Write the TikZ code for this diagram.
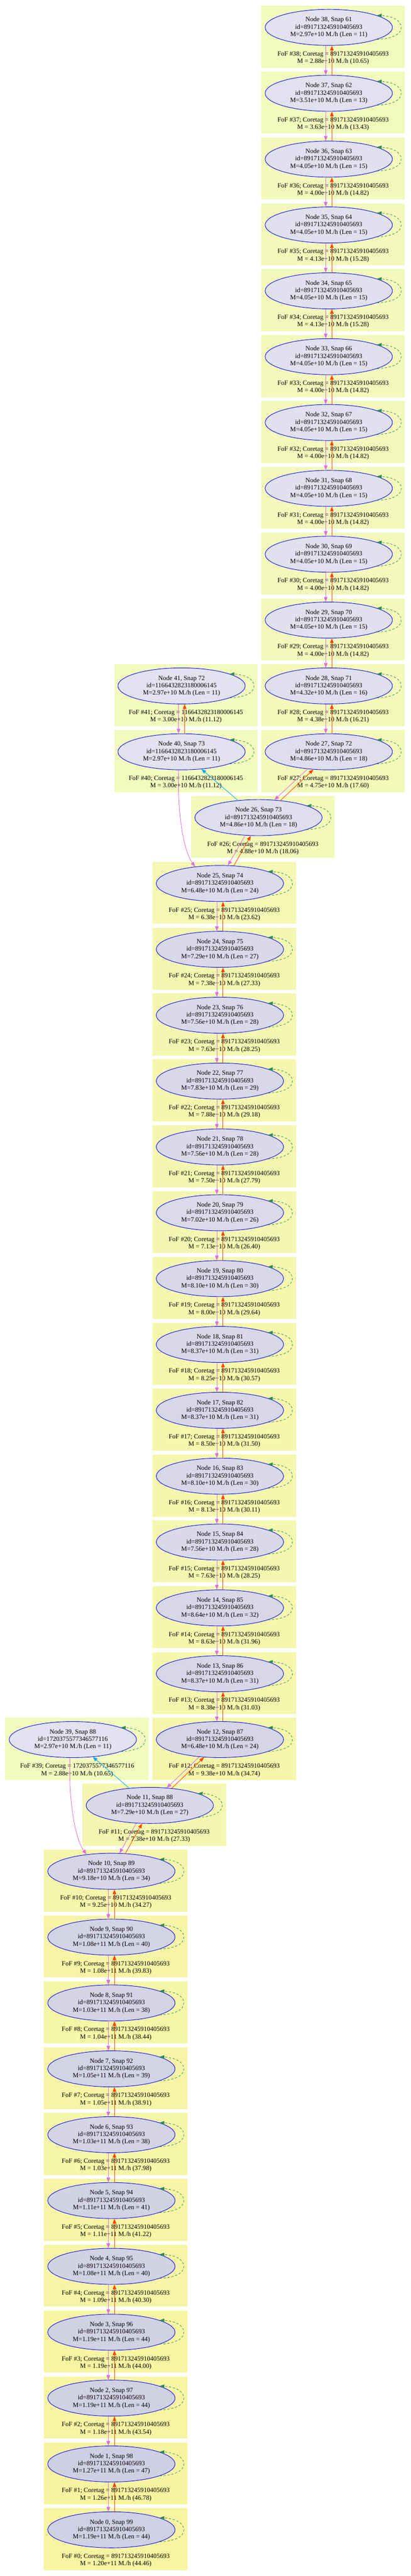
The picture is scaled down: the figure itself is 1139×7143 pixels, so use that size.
\documentclass[tikz,border=0pt]{standalone}
\usepackage{fontspec}
\setmainfont{Liberation Serif}
\usetikzlibrary{shapes.geometric,arrows.meta}
\definecolor{cllo}{HTML}{F2FABE}
\definecolor{clhi}{HTML}{F7F4A0}
\definecolor{ello}{HTML}{E2E2F0}
\definecolor{elhi}{HTML}{CFCFE3}
\definecolor{orchid}{HTML}{DA70D6}
\definecolor{orangered}{HTML}{FF4500}
\definecolor{seagreen}{HTML}{2E8B57}
\tikzset{
  headtip/.style  = { -{Triangle[length=13pt,width=10pt]} },
  halo/.style     = { ellipse, draw=blue, line width=1.3pt, minimum width=353pt, minimum height=100pt,
    inner sep=0pt, align=center, font=\fontsize{18pt}{20.5pt}\selectfont },
  foflab/.style   = { align=center, inner sep=0pt, font=\fontsize{18pt}{20.5pt}\selectfont },
  prog/.style     = { headtip, draw=orchid, line width=1.3pt },
  desc/.style     = { headtip, draw=orangered, line width=1.3pt },
  mergeln/.style  = { headtip, draw=cyan, line width=1.3pt },
  selfloop/.style = { headtip, draw=seagreen, line width=1.2pt, dash pattern=on 6pt off 5pt }
}
% #1 node, #2 x, #3 row, #4 snap, #5 id, #6 M, #7 len, #8 fof M, #9 fof ratio
\newcommand{\fofhalo}[9]{%
  \pgfmathsetmacro\ytop{16+182.6*#3}
  \pgfmathtruncatemacro\fofmix{max(0,min(100,(#9-10.65)*100/36.13))}
  \fill[clhi!\fofmix!cllo] (#2-187,\ytop) rectangle (#2+211,\ytop+172);
  \node[halo, fill=elhi!\fofmix!ello] (h#1) at (#2,\ytop+60) {Node #1, Snap #4\\id=#5\\M=#6 M./h (Len = #7)};
  \node[foflab] (f#1) at (#2+12,\ytop+145) {FoF \##1; Coretag = #5\\M = #8 M./h (#9)};
  \draw[selfloop] (h#1.-14) .. controls +(45,-2) and +(0,18) .. ([xshift=201pt]h#1.center)
    .. controls +(0,-18) and +(45,2) .. (h#1.14);
}
\newcommand{\halolink}[2]{%
  \draw[prog] ([xshift=-8.5pt]h#1.south) -- ([xshift=-8.5pt]h#2.north);
  \draw[desc] ([xshift=8.5pt]h#2.north) -- ([xshift=8.5pt]h#1.south);
}
\begin{document}
\begin{tikzpicture}[x=1pt,y=-1pt]
  \useasboundingbox (0,0) rectangle (1139,7143);
  % snaps 61-72
  \foreach \nd/\sn/\ms/\lh/\fm/\fr [count=\row from 0] in {
    38/61/2.97e+10/11/2.88e+10/10.65, 37/62/3.51e+10/13/3.63e+10/13.43,
    36/63/4.05e+10/15/4.00e+10/14.82, 35/64/4.05e+10/15/4.13e+10/15.28,
    34/65/4.05e+10/15/4.13e+10/15.28, 33/66/4.05e+10/15/4.00e+10/14.82,
    32/67/4.05e+10/15/4.00e+10/14.82, 31/68/4.05e+10/15/4.00e+10/14.82,
    30/69/4.05e+10/15/4.00e+10/14.82, 29/70/4.05e+10/15/4.00e+10/14.82,
    28/71/4.32e+10/16/4.38e+10/16.21, 27/72/4.86e+10/18/4.75e+10/17.60}
    {\fofhalo{\nd}{912}{\row}{\sn}{891713245910405693}{\ms}{\lh}{\fm}{\fr}}
  \fofhalo{41}{503.6}{10}{72}{1166432823180006145}{2.97e+10}{11}{3.00e+10}{11.12}
  \fofhalo{40}{503.6}{11}{73}{1166432823180006145}{2.97e+10}{11}{3.00e+10}{11.12}
  \fofhalo{26}{717}{12}{73}{891713245910405693}{4.86e+10}{18}{4.88e+10}{18.06}
  % snaps 74-87
  \foreach \nd/\sn/\ms/\lh/\fm/\fr [count=\row from 13] in {
    25/74/6.48e+10/24/6.38e+10/23.62, 24/75/7.29e+10/27/7.38e+10/27.33,
    23/76/7.56e+10/28/7.63e+10/28.25, 22/77/7.83e+10/29/7.88e+10/29.18,
    21/78/7.56e+10/28/7.50e+10/27.79, 20/79/7.02e+10/26/7.13e+10/26.40,
    19/80/8.10e+10/30/8.00e+10/29.64, 18/81/8.37e+10/31/8.25e+10/30.57,
    17/82/8.37e+10/31/8.50e+10/31.50, 16/83/8.10e+10/30/8.13e+10/30.11,
    15/84/7.56e+10/28/7.63e+10/28.25, 14/85/8.64e+10/32/8.63e+10/31.96,
    13/86/8.37e+10/31/8.38e+10/31.03, 12/87/6.48e+10/24/9.38e+10/34.74}
    {\fofhalo{\nd}{610}{\row}{\sn}{891713245910405693}{\ms}{\lh}{\fm}{\fr}}
  \fofhalo{39}{202}{26}{88}{1720375577346577116}{2.97e+10}{11}{2.88e+10}{10.65}
  \fofhalo{11}{415.5}{27}{88}{891713245910405693}{7.29e+10}{27}{7.38e+10}{27.33}
  % snaps 89-99
  \foreach \nd/\sn/\ms/\lh/\fm/\fr [count=\row from 28] in {
    10/89/9.18e+10/34/9.25e+10/34.27, 9/90/1.08e+11/40/1.08e+11/39.83,
    8/91/1.03e+11/38/1.04e+11/38.44, 7/92/1.05e+11/39/1.05e+11/38.91,
    6/93/1.03e+11/38/1.03e+11/37.98, 5/94/1.11e+11/41/1.11e+11/41.22,
    4/95/1.08e+11/40/1.09e+11/40.30, 3/96/1.19e+11/44/1.19e+11/44.00,
    2/97/1.19e+11/44/1.18e+11/43.54, 1/98/1.27e+11/47/1.26e+11/46.78,
    0/99/1.19e+11/44/1.20e+11/44.46}
    {\fofhalo{\nd}{309}{\row}{\sn}{891713245910405693}{\ms}{\lh}{\fm}{\fr}}
  % progenitor / descendant links
  \foreach \up in {28,...,38} {\pgfmathtruncatemacro\nb{\up-1}\halolink{\up}{\nb}}
  \foreach \up in {13,...,25} {\pgfmathtruncatemacro\nb{\up-1}\halolink{\up}{\nb}}
  \foreach \up in {1,...,10} {\pgfmathtruncatemacro\nb{\up-1}\halolink{\up}{\nb}}
  \halolink{41}{40}
  \draw[prog] (h27.-141) -- (h26.48);
  \draw[desc] (h26.38) -- (h27.-131);
  \draw[prog] (h26.-127) -- (h25.66);
  \draw[desc] (h25.52) -- (h26.-113);
  \draw[mergeln] (h26.140) -- (h40.-41);
  \draw[prog] (h40.-99) .. controls +(-4,110) and +(-34,-48) .. (h25.146);
  \draw[prog] (h12.-140) -- (h11.46);
  \draw[desc] (h11.38) -- (h12.-132);
  \draw[prog] (h11.-127) -- (h10.66);
  \draw[desc] (h10.52) -- (h11.-113);
  \draw[mergeln] (h11.140) -- (h39.-41);
  \draw[prog] (h39.-99) .. controls +(-4,110) and +(-34,-48) .. (h10.146);
\end{tikzpicture}
\end{document}
